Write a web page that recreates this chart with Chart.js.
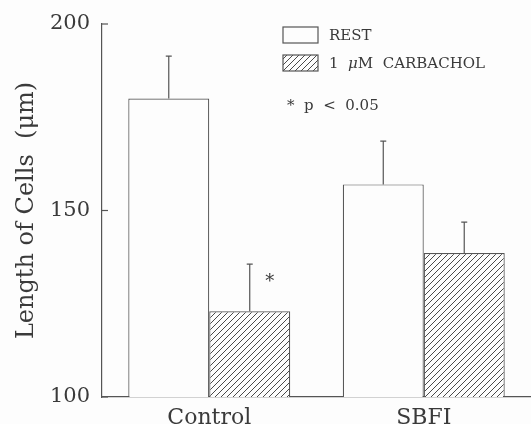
<!DOCTYPE html>
<html>
<head>
<meta charset="utf-8">
<script src="https://cdn.jsdelivr.net/npm/chart.js@4/dist/chart.umd.min.js"></script>
<style>
  html, body { margin: 0; padding: 0; background: #fdfdfd; }
  #wrap { width: 531px; height: 424px; position: relative; }
</style>
</head>
<body>
<div id="wrap"><canvas id="cells"></canvas></div>
<script>
// values
const categories = ['Control', 'SBFI'];
const restMean = [180, 157];
const restSem = [11.4, 11.6];
const carbMean = [123, 138.6];
const carbSem = [12.6, 8.3];
const carbSignificant = [true, false];
const yTicks = [100, 150, 200];

const INK = '#555';
const TEXT = '#3a3a3a';
const FONT = '"DejaVu Serif", "Liberation Serif", serif';

// diagonal hatch fill, like the printed figure
function hatch() {
    const c = document.createElement('canvas');
    c.width = 6; c.height = 6;
    const g = c.getContext('2d');
    g.fillStyle = '#fdfdfd';
    g.fillRect(0, 0, 6, 6);
    g.strokeStyle = '#4a4a4a';
    g.lineWidth = 1;
    g.beginPath();
    g.moveTo(-1, 7); g.lineTo(7, -1);
    g.moveTo(-1, 1); g.lineTo(1, -1);
    g.moveTo(5, 7); g.lineTo(7, 5);
    g.stroke();
    return g.createPattern(c, 'repeat');
}
const hatchFill = hatch();

// error bars (upward only), asterisk, inward y ticks and the legend
const extras = {
    id: 'extras',
    afterDatasetsDraw(chart) {
        const ctx = chart.ctx;
        const y = chart.scales.y;
        const sems = [restSem, carbSem];
        ctx.save();
        ctx.strokeStyle = INK;
        ctx.lineWidth = 1.2;
        chart.data.datasets.forEach((ds, di) => {
            const meta = chart.getDatasetMeta(di);
            meta.data.forEach((bar, i) => {
                const top = y.getPixelForValue(ds.data[i] + sems[di][i]);
                ctx.beginPath();
                ctx.moveTo(bar.x, bar.y);
                ctx.lineTo(bar.x, top);
                ctx.moveTo(bar.x - 3, top);
                ctx.lineTo(bar.x + 3, top);
                ctx.stroke();
                if (di === 1 && carbSignificant[i]) {
                    ctx.fillStyle = TEXT;
                    ctx.font = '18px ' + FONT;
                    ctx.textAlign = 'center';
                    ctx.textBaseline = 'middle';
                    ctx.fillText('*', bar.x + 20, y.getPixelForValue(ds.data[i] + sems[di][i] * 0.7) + 4);
                }
            });
        });

        // y ticks pointing into the plot
        yTicks.forEach(v => {
            const py = y.getPixelForValue(v);
            ctx.beginPath();
            ctx.moveTo(y.right - 1, py);
            ctx.lineTo(y.right + 6, py);
            ctx.stroke();
        });

        // legend
        const lx = 283;
        const rows = [
            { fill: '#fdfdfd', y: 27 },
            { fill: hatchFill, y: 55 }
        ];
        rows.forEach(r => {
            ctx.fillStyle = r.fill;
            ctx.fillRect(lx, r.y, 35, 16);
            ctx.strokeRect(lx, r.y, 35, 16);
        });
        ctx.textAlign = 'left';
        ctx.textBaseline = 'middle';
        ctx.fillStyle = TEXT;
        ctx.font = '15px ' + FONT;
        ctx.fillText('REST', 329, 36);
        let tx = 329;
        ctx.fillText('1 ', tx, 64);
        tx += ctx.measureText('1  ').width;
        ctx.font = 'italic 15px ' + FONT;
        ctx.fillText('\u03bc', tx, 64);
        tx += ctx.measureText('\u03bc').width;
        ctx.font = '15px ' + FONT;
        ctx.fillText('M  CARBACHOL', tx, 64);
        ctx.fillText('*  p  <  0.05', 287, 106);
        ctx.restore();
    }
};

new Chart(document.getElementById('cells'), {
    type: 'bar',
    data: {
        labels: categories,
        datasets: [
            {
                label: 'REST',
                data: restMean,
                backgroundColor: '#fdfdfd',
                borderColor: INK,
                borderWidth: 1.2,
                borderSkipped: 'bottom'
            },
            {
                label: '1 \u03bcM CARBACHOL',
                data: carbMean,
                backgroundColor: hatchFill,
                borderColor: INK,
                borderWidth: 1.2,
                borderSkipped: 'bottom'
            }
        ]
    },
    options: {
        responsive: true,
        maintainAspectRatio: false,
        animation: false,
        layout: { padding: { top: 24, right: 0, left: 0, bottom: 0 } },
        plugins: {
            legend: { display: false },
            tooltip: { enabled: false }
        },
        datasets: {
            bar: { categoryPercentage: 0.755, barPercentage: 1.0 }
        },
        scales: {
            x: {
                grid: { display: false },
                border: { display: true, color: INK, width: 1.2 },
                ticks: { color: TEXT, font: { family: FONT, size: 22 }, padding: 0 },
                afterFit: s => { s.height = 27; }
            },
            y: {
                min: 100,
                max: 200,
                afterBuildTicks: s => { s.ticks = yTicks.map(v => ({ value: v })); },
                grid: { display: false },
                border: { display: true, color: INK, width: 1.2 },
                ticks: { color: TEXT, font: { family: FONT, size: 21 }, padding: 4 },
                title: {
                    display: true,
                    text: 'Length of Cells  (\u03bcm)',
                    color: TEXT,
                    font: { family: FONT, size: 24 },
                    padding: { top: 12, bottom: 4 }
                },
                afterFit: s => { s.width = 102; }
            }
        }
    },
    plugins: [extras]
});
</script>
</body>
</html>
